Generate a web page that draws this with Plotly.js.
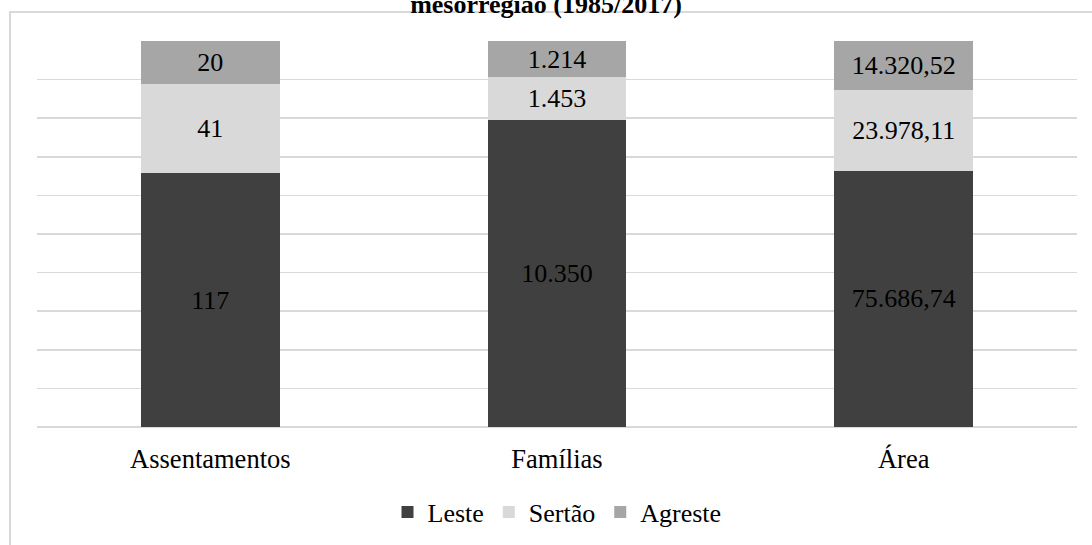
<!DOCTYPE html>
<html>
<head>
<meta charset="utf-8">
<script src="https://cdn.plot.ly/plotly-3.0.1.min.js"></script>
<style>html,body{margin:0;padding:0;background:#fff;}#chart{width:1092px;height:545px;}</style>
</head>
<body>
<div id="chart"></div>
<script>
const categories = ['Assentamentos', 'Famílias', 'Área'];
const seriesNames = ['Leste', 'Sertão', 'Agreste'];
const leste = [117, 10350, 75686.74];
const sertao = [41, 1453, 23978.11];
const agreste = [20, 1214, 14320.52];
const lesteLabels = ['117', '10.350', '75.686,74'];
const sertaoLabels = ['41', '1.453', '23.978,11'];
const agresteLabels = ['20', '1.214', '14.320,52'];
const colors = ['#404040', '#d9d9d9', '#a6a6a6'];

const FONT = '"Liberation Serif", "Times New Roman", serif';
const values = [leste, sertao, agreste];
const labels = [lesteLabels, sertaoLabels, agresteLabels];

const traces = values.map((v, i) => ({
  type: 'bar',
  name: seriesNames[i],
  x: categories,
  y: v,
  text: labels[i],
  texttemplate: '%{text}',
  textposition: 'inside',
  insidetextanchor: 'middle',
  constraintext: 'none',
  textangle: 0,
  textfont: {family: FONT, size: 26, color: '#000'},
  marker: {color: colors[i], line: {width: 0}},
  hoverinfo: 'skip'
}));

const W = 1092, H = 545;
const ml = 37, mr = 15, mt = 41, mb = 118;
const pw = W - ml - mr, ph = H - mt - mb;

const layout = {
  width: W, height: H,
  margin: {l: ml, r: mr, t: mt, b: mb, pad: 0},
  paper_bgcolor: 'rgba(0,0,0,0)',
  plot_bgcolor: 'rgba(0,0,0,0)',
  barmode: 'stack',
  barnorm: 'percent',
  bargap: 0.6,
  font: {family: FONT, size: 26, color: '#000'},
  title: {
    text: '<b>mesorregião (1985/2017)</b>',
    font: {family: FONT, size: 26, color: '#000'},
    x: 0.5, xanchor: 'center',
    yref: 'container', y: 1 - 4 / H, yanchor: 'middle'
  },
  xaxis: {
    type: 'category',
    showgrid: false,
    zeroline: false,
    showline: false,
    ticks: 'outside', ticklen: 8, tickcolor: 'rgba(0,0,0,0)',
    tickfont: {family: FONT, size: 26.5, color: '#000'}
  },
  yaxis: {
    range: [0, 100],
    dtick: 10,
    showticklabels: false,
    showgrid: true,
    gridcolor: '#d9d9d9',
    gridwidth: 1.5,
    zeroline: true,
    zerolinecolor: '#d9d9d9',
    zerolinewidth: 1.5,
    showline: false,
    ticks: ''
  },
  showlegend: true,
  legend: {
    orientation: 'h',
    traceorder: 'normal',
    x: 0.5, xanchor: 'center',
    yref: 'container', y: 1 - 512 / H, yanchor: 'middle',
    font: {family: FONT, size: 26, color: '#000'},
    itemwidth: 30,
    tracegroupgap: 0,
    bgcolor: 'rgba(0,0,0,0)'
  },
  shapes: [{
    type: 'rect', layer: 'below',
    xref: 'paper', yref: 'paper',
    x0: (10 - ml) / pw, x1: (W + 20 - ml) / pw,
    y0: (H - mb - (H + 20)) / ph, y1: (H - mb - 12) / ph,
    line: {color: '#d9d9d9', width: 2},
    fillcolor: 'rgba(0,0,0,0)'
  }]
};

Plotly.newPlot('chart', traces, layout, {displayModeBar: false, staticPlot: true});
</script>
</body>
</html>
